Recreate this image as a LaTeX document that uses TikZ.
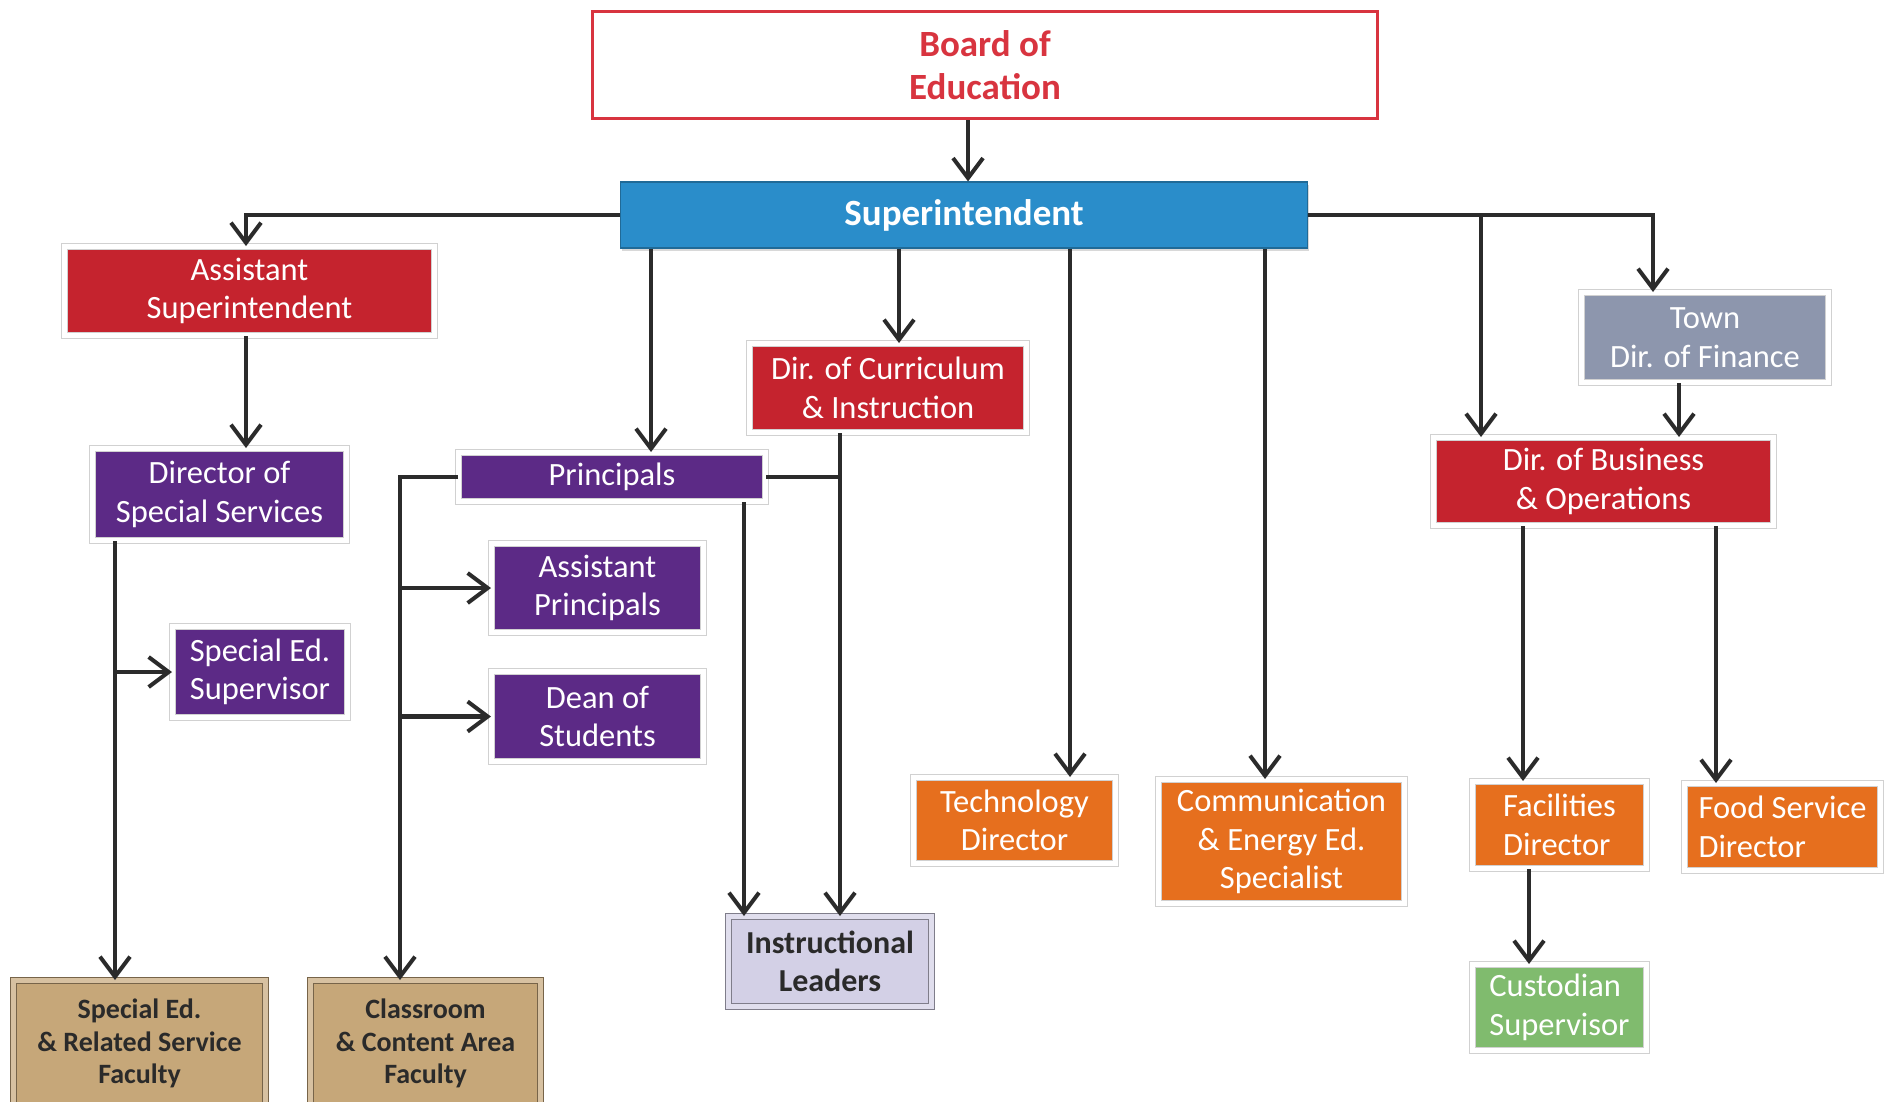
\documentclass[tikz,border=0pt]{standalone}
\usepackage{fontspec}
\setmainfont{Carlito}
\usetikzlibrary{arrows.meta,shadows}
\definecolor{linec}{HTML}{2B2B2B}
\definecolor{boardred}{HTML}{D8343F}
\definecolor{supblue}{HTML}{2A8DCA}
\definecolor{boxred}{HTML}{C5232E}
\definecolor{boxpurple}{HTML}{5C2A86}
\definecolor{boxtan}{HTML}{C6A779}
\definecolor{boxlav}{HTML}{D3D0E6}
\definecolor{boxorange}{HTML}{E66F1E}
\definecolor{boxgray}{HTML}{8D96AD}
\definecolor{boxgreen}{HTML}{80BB6E}
\definecolor{darktext}{HTML}{2A2A2A}
\begin{document}
\begin{tikzpicture}[x=1pt,y=-1pt,
  orgbox/.style={draw=black!18, line width=1pt, double=white, double distance=5pt,
     align=center, inner sep=2pt,
     font=\fontsize{32.5}{38.5}\selectfont, text=white,
     drop shadow={shadow xshift=1.5pt, shadow yshift=-3pt, fill=black!35}},
  facbox/.style={orgbox, fill=boxtan, text=darktext, draw=boxtan!60!black, double=boxtan!70!white,
     font=\fontsize{28}{32.5}\selectfont\bfseries},
  arr/.style={draw=linec, line width=4.2pt, -{Straight Barb[length=20pt,width=30pt,line width=4pt]}},
  plain/.style={draw=linec, line width=4.2pt}]
\useasboundingbox[fill=white] (0,0) rectangle (1900,1101);

% nodes
\node[draw=boardred, line width=3pt, fill=white, text=boardred, align=center,
      font=\fontsize{37}{43}\selectfont\bfseries,
      minimum width=785pt, minimum height=107pt] (board) at (985,65) {Board of\\Education};
\node[draw=supblue!75!black, line width=1.2pt, fill=supblue, text=white, align=center,
      font=\fontsize{37}{42}\selectfont\bfseries,
      drop shadow={shadow xshift=1.5pt, shadow yshift=-3pt, fill=black!30},
      minimum width=687pt, minimum height=66pt] (super) at (964,215) {Superintendent};
\node[orgbox, fill=boxred, minimum width=370pt, minimum height=89pt] (asup) at (249.5,291) {Assistant\\Superintendent};
\node[orgbox, fill=boxpurple, minimum width=254pt, minimum height=92pt] (dss) at (219.5,494.5) {Director of\\Special Services};
\node[orgbox, fill=boxpurple, minimum width=175pt, minimum height=91pt] (sesup) at (260,672) {Special Ed.\\Supervisor};
\node[facbox, minimum width=252pt, minimum height=126pt] (sef) at (139.5,1043.5) {Special Ed.\\\& Related Service\\Faculty};
\node[facbox, minimum width=230pt, minimum height=126pt] (crf) at (425.5,1043.5) {Classroom\\\& Content Area\\Faculty};
\node[orgbox, fill=boxpurple, minimum width=307pt, minimum height=49pt] (princ) at (612,477) {Principals};
\node[orgbox, fill=boxpurple, minimum width=212pt, minimum height=89pt] (ap) at (597.5,588) {Assistant\\Principals};
\node[orgbox, fill=boxpurple, minimum width=212pt, minimum height=90pt] (dos) at (597.5,716.5) {Dean of\\Students};
\node[orgbox, fill=boxred, minimum width=277pt, minimum height=89pt] (dci) at (888,388) {Dir. of Curriculum\\\& Instruction};
\node[orgbox, fill=boxlav, text=darktext, draw=boxlav!60!black, double=boxlav!70!white,
      font=\fontsize{32}{38}\selectfont\bfseries,
      minimum width=203pt, minimum height=90pt] (il) at (830,961.5) {Instructional\\Leaders};
\node[orgbox, fill=boxorange, minimum width=202pt, minimum height=86pt] (tech) at (1014.5,820.5) {Technology\\Director};
\node[orgbox, fill=boxorange, minimum width=246pt, minimum height=124pt] (comm) at (1281.5,841.5) {Communication\\\& Energy Ed.\\Specialist};
\node[orgbox, fill=boxgray, minimum width=247pt, minimum height=90pt] (town) at (1705,337.5) {Town\\Dir. of Finance};
\node[orgbox, fill=boxred, minimum width=340pt, minimum height=88pt] (dbo) at (1603.5,481.5) {Dir. of Business\\\& Operations};
\node[orgbox, fill=boxorange, align=left, minimum width=174pt, minimum height=87pt] (fac) at (1559.5,825) {Facilities\\ Director};
\node[orgbox, fill=boxorange, align=left, minimum width=196pt, minimum height=87pt] (food) at (1782.5,827) {Food Service\\ Director};
\node[orgbox, fill=boxgreen, align=left, minimum width=174pt, minimum height=86pt] (cust) at (1559.5,1007.5) {Custodian\\ Supervisor};

% connectors
\draw[arr] (board.south -| 968,0) -- (super.north -| 968,0);
\draw[arr] (super.west) -| (asup.north -| 246,0);
\draw[arr] (asup.south -| 246,0) -- (dss.north -| 246,0);
\draw[arr] (dss.south -| 115,0) -- (sef.north -| 115,0);
\draw[arr] (sesup.west -| 115,0) -- (sesup.west);
\draw[arr] (super.south -| 651,0) -- (princ.north -| 651,0);
\draw[arr] (princ.west) -| (crf.north -| 400,0);
\draw[arr] (ap.west -| 400,0) -- (ap.west);
\draw[arr] (dos.west -| 400,0) -- (dos.west);
\draw[arr] (princ.south -| 744,0) -- (il.north -| 744,0);
\draw[arr] (super.south -| 899,0) -- (dci.north -| 899,0);
\draw[arr] (dci.south -| 840,0) -- (il.north -| 840,0);
\draw[plain] (princ.east) -- (princ.east -| 840,0);
\draw[arr] (super.south -| 1070,0) -- (tech.north -| 1070,0);
\draw[arr] (super.south -| 1265,0) -- (comm.north -| 1265,0);
\draw[arr] (super.east) -| (town.north -| 1653,0);
\draw[arr] (super.east -| 1481,0) -- (dbo.north -| 1481,0);
\draw[arr] (town.south -| 1679,0) -- (dbo.north -| 1679,0);
\draw[arr] (dbo.south -| 1523,0) -- (fac.north -| 1523,0);
\draw[arr] (dbo.south -| 1716,0) -- (food.north -| 1716,0);
\draw[arr] (fac.south -| 1529,0) -- (cust.north -| 1529,0);
\end{tikzpicture}
\end{document}
